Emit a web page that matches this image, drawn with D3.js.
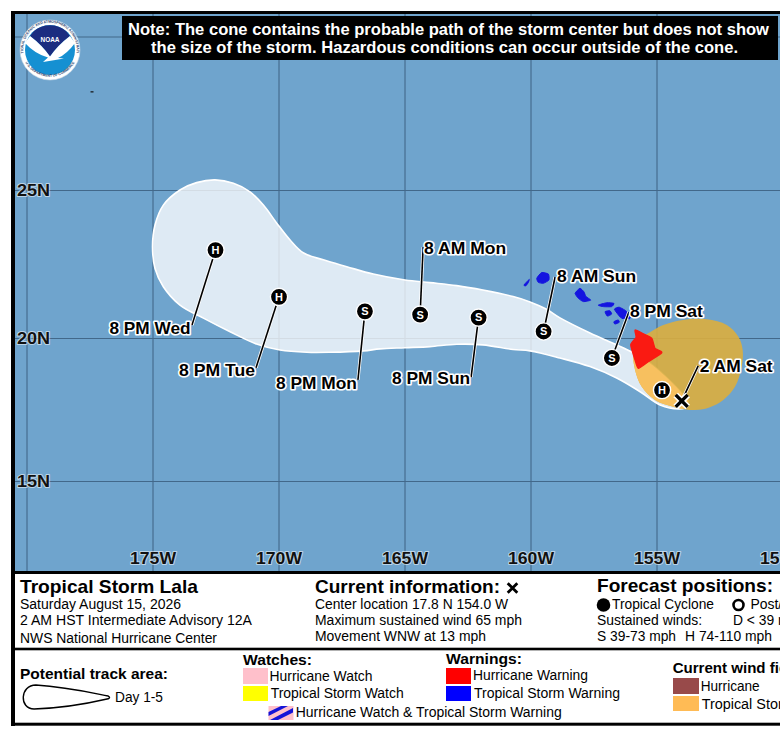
<!DOCTYPE html>
<html>
<head>
<meta charset="utf-8">
<style>
  html, body { margin: 0; padding: 0; background: #fff; }
  svg { display: block; font-family: "Liberation Sans", Arial, sans-serif; }
</style>
<script src="https://cdn.jsdelivr.net/npm/d3@7"></script>
</head>
<body>
<svg id="chart" width="780" height="736"></svg>
<script>
// ticks
const lonTicks = [-180, -175, -170, -165, -160, -155, -150];
const latTicks = [30, 25, 20, 15];

// forecast positions, oldest last
const forecastLons = [-172.5, -169.98, -166.57, -164.38, -162.06, -159.48, -156.77, -154.78];
const forecastLats = [22.97, 21.39, 20.90, 20.79, 20.69, 20.22, 19.30, 18.18];
const forecastTypes = ['H', 'H', 'S', 'S', 'S', 'S', 'S', 'H'];
const forecastLabels = ['8 PM Wed', '8 PM Tue', '8 PM Mon', '8 AM Mon', '8 PM Sun', '8 AM Sun', '8 PM Sat', ''];
const currentPosition = [-154.0, 17.8];
const currentLabel = '2 AM Sat';

// outlines as [lon, lat]
const cone = [
  [-175.0, 23.08], [-174.9, 23.82], [-174.57, 24.49], [-173.91, 25.0], [-173.25, 25.24], [-172.52, 25.33],
  [-171.79, 25.22], [-171.13, 24.94], [-170.6, 24.49], [-170.07, 23.88], [-169.54, 23.31], [-169.02, 22.88],
  [-168.22, 22.64], [-167.29, 22.41], [-166.24, 22.16], [-164.98, 21.96], [-163.99, 21.87], [-162.93, 21.77],
  [-161.89, 21.62], [-160.69, 21.4], [-160.02, 21.22], [-159.38, 20.98], [-158.83, 20.68], [-157.64, 20.17],
  [-156.58, 19.76], [-155.98, 19.51], [-155.34, 19.17], [-154.66, 18.67], [-154.0, 18.08], [-153.75, 17.8],
  [-153.79, 17.59], [-154.07, 17.52], [-154.86, 17.66], [-155.65, 18.12], [-156.58, 18.6], [-157.64, 19.0],
  [-158.83, 19.3], [-160.02, 19.55], [-160.69, 19.6], [-161.89, 19.76], [-162.93, 19.78], [-163.99, 19.7],
  [-164.98, 19.66], [-165.97, 19.62], [-166.63, 19.55], [-167.96, 19.5], [-168.88, 19.5], [-169.94, 19.58],
  [-170.87, 19.79], [-171.92, 20.21], [-172.98, 20.67], [-173.91, 21.11], [-174.57, 21.73], [-174.9, 22.35]
];
const windField = [
  [-155.33, 20.16], [-154.73, 20.44], [-153.94, 20.61], [-153.01, 20.63], [-152.21, 20.44], [-151.75, 20.04],
  [-151.58, 19.58], [-151.62, 19.0], [-151.88, 18.3], [-152.35, 17.83], [-152.88, 17.58], [-153.47, 17.48],
  [-154.27, 17.58], [-155.06, 17.83], [-155.59, 18.3], [-155.85, 18.88], [-155.92, 19.48], [-155.73, 19.93]
];
const bigIsland = [
  [-155.85, 20.27], [-155.52, 20.14], [-155.19, 19.99], [-155.06, 19.64], [-154.79, 19.49], [-155.33, 19.17],
  [-155.72, 18.94], [-155.85, 19.23], [-156.02, 19.76], [-155.81, 20.02]
];
const warnedIslands = [
  [[-159.75, 22.02], [-159.56, 22.21], [-159.29, 22.16], [-159.27, 21.96], [-159.49, 21.85], [-159.69, 21.88]],
  [[-160.26, 21.79], [-160.05, 21.98], [-160.09, 21.87], [-160.19, 21.76]],
  [[-158.23, 21.51], [-158.04, 21.68], [-157.88, 21.56], [-157.8, 21.4], [-157.61, 21.28], [-157.9, 21.23], [-158.1, 21.34]],
  [[-157.31, 21.11], [-156.98, 21.19], [-156.69, 21.17], [-156.78, 21.06], [-157.11, 21.06]],
  [[-157.04, 20.89], [-156.85, 20.92], [-156.78, 20.81], [-156.95, 20.74]],
  [[-156.67, 20.97], [-156.48, 21.04], [-156.18, 20.89], [-156.25, 20.67], [-156.42, 20.69]],
  [[-156.69, 20.55], [-156.52, 20.61], [-156.48, 20.53], [-156.65, 20.47]],
  [[-156.13, 20.74], [-156.01, 20.71], [-156.09, 20.64]]
];
const atoll = [-177.4, 28.2];

// legend + info text
const noteLines = [
  'Note: The cone contains the probable path of the storm center but does not show',
  'the size of the storm. Hazardous conditions can occur outside of the cone.'
];
const infoTitles = ['Tropical Storm Lala', 'Current information:', 'Forecast positions:'];
const infoLeft = ['Saturday August 15, 2026', '2 AM HST Intermediate Advisory 12A', 'NWS National Hurricane Center'];
const infoCurrent = ['Center location 17.8 N 154.0 W', 'Maximum sustained wind 65 mph', 'Movement WNW at 13 mph'];

const svg = d3.select('#chart');

// x, baseline, size, bold, width
function put(str, x, y, size, bold, width) {
  const t = svg.append('text')
    .attr('x', x).attr('y', y)
    .attr('font-size', size)
    .attr('font-weight', bold ? 'bold' : 'normal')
    .attr('fill', '#000')
    .text(str);
  if (width) t.attr('textLength', width).attr('lengthAdjust', 'spacingAndGlyphs');
  return t;
}

const mapLeft = 15, mapRight = 780, mapTop = 14, mapBottom = 571;

const x = d3.scaleLinear().domain([-180, -150]).range([26.5, 782.5]);
// mercator-ish spacing, so piecewise
const y = d3.scaleLinear().domain([30, 25, 20, 15]).range([36.5, 190, 338, 481]);

svg.append('clipPath').attr('id', 'mapClip').append('rect')
  .attr('x', mapLeft).attr('y', mapTop)
  .attr('width', mapRight - mapLeft).attr('height', mapBottom - mapTop);

const map = svg.append('g').attr('clip-path', 'url(#mapClip)');

map.append('rect')
  .attr('x', mapLeft).attr('y', mapTop)
  .attr('width', mapRight - mapLeft).attr('height', mapBottom - mapTop)
  .attr('fill', '#6fa4cd');

// grid comes from the axes
const xGrid = d3.axisBottom(x).tickValues(lonTicks).tickSize(mapBottom - mapTop).tickFormat('');
const yGrid = d3.axisLeft(y).tickValues(latTicks).tickSize(-(mapRight - mapLeft)).tickFormat('');
map.append('g').attr('transform', `translate(0,${mapTop})`).call(xGrid)
  .call(g => g.select('.domain').remove())
  .call(g => g.selectAll('line').attr('stroke', '#42688a').attr('stroke-width', 1.1));
map.append('g').attr('transform', `translate(${mapLeft},0)`).call(yGrid)
  .call(g => g.select('.domain').remove())
  .call(g => g.selectAll('line').attr('stroke', '#42688a').attr('stroke-width', 1.1));

const outline = d3.line().x(d => x(d[0])).y(d => y(d[1])).curve(d3.curveCatmullRomClosed.alpha(0.5));
const island = d3.line().x(d => x(d[0])).y(d => y(d[1])).curve(d3.curveCardinalClosed.tension(0.45));

svg.append('clipPath').attr('id', 'coneClip').append('path').attr('d', outline(cone));

// cone, then wind field over it
map.append('path').attr('d', outline(cone))
  .attr('fill', '#fff').attr('fill-opacity', 0.77);
map.append('path').attr('d', outline(cone))
  .attr('fill', 'none').attr('stroke', '#fff').attr('stroke-width', 1.6);
map.append('path').attr('d', outline(windField))
  .attr('fill', '#dcae3e').attr('fill-opacity', 0.9);
map.append('path').attr('d', outline(windField))
  .attr('clip-path', 'url(#coneClip)')
  .attr('fill', '#f7c05f');

map.selectAll('.warned').data(warnedIslands).join('path')
  .attr('class', 'warned')
  .attr('d', island)
  .attr('fill', '#1414e0').attr('stroke', '#1414e0').attr('stroke-width', 1).attr('stroke-linejoin', 'round');
map.append('path').attr('d', island(bigIsland))
  .attr('fill', '#fa1a12').attr('stroke', '#fa1a12').attr('stroke-width', 1.4).attr('stroke-linejoin', 'round');
map.append('rect')
  .attr('x', x(atoll[0]) - 1.5).attr('y', y(atoll[1]) - 0.5)
  .attr('width', 3).attr('height', 1.2).attr('fill', '#111');

// axis labels, halo kept faint
const halo = sel => sel
  .attr('paint-order', 'stroke')
  .attr('stroke', '#fff').attr('stroke-opacity', 0.55).attr('stroke-width', 2).attr('stroke-linejoin', 'round');

const xAxis = d3.axisBottom(x).tickValues(lonTicks.slice(1)).tickSize(0).tickFormat(d => `${-d}W`);
map.append('g').attr('transform', 'translate(0,549)').call(xAxis)
  .call(g => g.select('.domain').remove())
  .call(g => g.selectAll('text')
    .attr('font-family', '"Liberation Sans", Arial, sans-serif')
    .attr('font-size', 17).attr('font-weight', 'bold').attr('fill', '#111')
    .attr('textLength', 46).attr('lengthAdjust', 'spacingAndGlyphs')
    .call(halo));

const yAxis = d3.axisRight(y).tickValues(latTicks.slice(1)).tickSize(0).tickFormat(d => `${d}N`);
map.append('g').attr('transform', 'translate(17,0)').call(yAxis)
  .call(g => g.select('.domain').remove())
  .call(g => g.selectAll('text')
    .attr('x', 0)
    .attr('font-family', '"Liberation Sans", Arial, sans-serif')
    .attr('font-size', 17).attr('font-weight', 'bold').attr('fill', '#111')
    .attr('textLength', 33).attr('lengthAdjust', 'spacingAndGlyphs')
    .call(halo));

// leader line ends and text relative to each marker
const leaderDx = [-23.5, -23, -7, 3, -7.5, 11.5, 17];
const leaderDy = [75, 71, 68.5, -67.5, 59.5, -54.5, -46];
const labelDx = [-25, -24, -8, 4, -8.5, 13.5, 18];
const labelDy = [84, 79, 78, -61, 66, -49, -41];
const labelAnchor = ['end', 'end', 'end', 'start', 'end', 'start', 'start'];
const labelWidth = [81, 76, 81, 82, 78, 79, 73];

const forecast = forecastLons.map((lon, i) => ({
  px: x(lon), py: y(forecastLats[i]), type: forecastTypes[i], label: forecastLabels[i], i
}));

// leaders
map.selectAll('.leader').data(forecast.filter(d => d.label)).join('line')
  .attr('class', 'leader')
  .attr('x1', d => d.px).attr('y1', d => d.py)
  .attr('x2', d => d.px + leaderDx[d.i]).attr('y2', d => d.py + leaderDy[d.i])
  .attr('stroke', '#fff').attr('stroke-width', 3.2);
map.selectAll('.leaderInk').data(forecast.filter(d => d.label)).join('line')
  .attr('class', 'leaderInk')
  .attr('x1', d => d.px).attr('y1', d => d.py)
  .attr('x2', d => d.px + leaderDx[d.i]).attr('y2', d => d.py + leaderDy[d.i])
  .attr('stroke', '#000').attr('stroke-width', 1.6);

// current position leader + X
const cx = x(currentPosition[0]), cy = y(currentPosition[1]);
map.append('line').attr('x1', cx).attr('y1', cy).attr('x2', cx + 16.5).attr('y2', cy - 35)
  .attr('stroke', '#fff').attr('stroke-width', 3.2);
map.append('line').attr('x1', cx).attr('y1', cy).attr('x2', cx + 16.5).attr('y2', cy - 35)
  .attr('stroke', '#000').attr('stroke-width', 1.6);

function cross(parent, px, py, r, w) {
  const d = `M${px - r},${py - r}L${px + r},${py + r}M${px - r},${py + r}L${px + r},${py - r}`;
  parent.append('path').attr('d', d).attr('stroke', '#fff').attr('stroke-width', w + 3).attr('fill', 'none');
  parent.append('path').attr('d', d).attr('stroke', '#000').attr('stroke-width', w).attr('fill', 'none');
}
cross(map, cx, cy, 6, 3.4);

const markers = map.selectAll('.marker').data(forecast).join('g')
  .attr('class', 'marker')
  .attr('transform', d => `translate(${d.px},${d.py})`);
markers.append('circle').attr('r', 8.6).attr('fill', '#000').attr('stroke', '#fff').attr('stroke-width', 1.4);
markers.append('text')
  .attr('text-anchor', 'middle').attr('y', 3.9)
  .attr('font-size', 11).attr('font-weight', 'bold').attr('fill', '#fff')
  .text(d => d.type);

const labelHalo = sel => sel
  .attr('paint-order', 'stroke')
  .attr('stroke', '#fff').attr('stroke-width', 3.2).attr('stroke-linejoin', 'round');

map.selectAll('.fcLabel').data(forecast.filter(d => d.label)).join('text')
  .attr('class', 'fcLabel')
  .attr('x', d => d.px + labelDx[d.i]).attr('y', d => d.py + labelDy[d.i])
  .attr('text-anchor', d => labelAnchor[d.i])
  .attr('font-size', 17).attr('font-weight', 'bold').attr('fill', '#000')
  .attr('textLength', d => labelWidth[d.i]).attr('lengthAdjust', 'spacingAndGlyphs')
  .text(d => d.label)
  .call(labelHalo);
map.append('text')
  .attr('x', cx + 18).attr('y', cy - 29)
  .attr('font-size', 17).attr('font-weight', 'bold').attr('fill', '#000')
  .attr('textLength', 73).attr('lengthAdjust', 'spacingAndGlyphs')
  .text(currentLabel)
  .call(labelHalo);

// note box
map.append('rect').attr('x', 122).attr('y', 16).attr('width', 656).attr('height', 44).attr('fill', '#000');
map.append('text').attr('x', 128).attr('y', 35).attr('font-size', 16.5).attr('font-weight', 'bold').attr('fill', '#fff')
  .attr('textLength', 641).attr('lengthAdjust', 'spacingAndGlyphs').text(noteLines[0]);
map.append('text').attr('x', 151).attr('y', 53).attr('font-size', 16.5).attr('font-weight', 'bold').attr('fill', '#fff')
  .attr('textLength', 587).attr('lengthAdjust', 'spacingAndGlyphs').text(noteLines[1]);

// NOAA logo
const logo = map.append('g').attr('transform', 'translate(50,50)');
logo.append('circle').attr('r', 30).attr('fill', '#fff').attr('stroke', '#c8d6e4').attr('stroke-width', 0.6);
logo.append('circle').attr('r', 25).attr('fill', '#1590d2');
logo.append('path').attr('fill', '#1b2d80')
  .attr('d', 'M-16,-19 A25,25 0 0 1 16,-19 L20,-14 Q8,-5 0,6.5 Q-8,-5 -20,-14 Z');
logo.append('path').attr('fill', '#fff')
  .attr('d', 'M-25,-7 L-20,-14 Q-8,-5 0,6.5 Q8,-5 20,-14 L25,-7 Q17,4 8,8 L14,8.5 Q4,10 -7,12 L-2,7.5 Q-15,4 -25,-7 Z');
logo.append('text').attr('text-anchor', 'middle').attr('y', -8.5)
  .attr('font-size', 7.5).attr('font-weight', 'bold').attr('fill', '#fff')
  .attr('textLength', 19).attr('lengthAdjust', 'spacingAndGlyphs').text('NOAA');
logo.append('path').attr('id', 'ringTop').attr('fill', 'none').attr('d', 'M-26.3,4 A26.7,26.7 0 1 1 26.3,4');
logo.append('path').attr('id', 'ringBottom').attr('fill', 'none').attr('d', 'M-25.5,11 A28.5,28.5 0 0 0 25.5,11');
logo.append('text').attr('font-size', 3.5).attr('fill', '#24406c').attr('font-weight', 'bold')
  .append('textPath').attr('href', '#ringTop').attr('startOffset', '50%').attr('text-anchor', 'middle')
  .text('NATIONAL OCEANIC AND ATMOSPHERIC ADMINISTRATION');
logo.append('text').attr('font-size', 3.5).attr('fill', '#24406c').attr('font-weight', 'bold')
  .append('textPath').attr('href', '#ringBottom').attr('startOffset', '50%').attr('text-anchor', 'middle')
  .text('U.S. DEPARTMENT OF COMMERCE');

// frame
const bars = [
  [11, 11, 769, 3], [11, 11, 4, 715], [11, 571, 769, 3], [11, 647.7, 769, 2.6], [11, 722.7, 769, 3]
];
svg.selectAll('.bar').data(bars).join('rect')
  .attr('class', 'bar')
  .attr('x', d => d[0]).attr('y', d => d[1]).attr('width', d => d[2]).attr('height', d => d[3])
  .attr('fill', '#000');

// info panel
put(infoTitles[0], 20, 593, 18.5, true, 178);
put(infoLeft[0], 20, 608.7, 14, false, 161);
put(infoLeft[1], 20, 625.3, 14, false, 232);
put(infoLeft[2], 20, 643, 14, false, 197);

put(infoTitles[1], 315, 593, 18.5, true, 185);
cross(svg, 512.5, 588, 4.8, 2.8);
put(infoCurrent[0], 315, 609, 14, false, 193);
put(infoCurrent[1], 315, 625, 14, false, 207);
put(infoCurrent[2], 315, 641, 14, false, 171);

put(infoTitles[2], 597, 592, 18.5, true, 176);
svg.append('circle').attr('cx', 603.5).attr('cy', 605).attr('r', 6.8).attr('fill', '#000');
put('Tropical Cyclone', 612, 609, 14, false, 102);
svg.append('circle').attr('cx', 738.5).attr('cy', 605).attr('r', 5).attr('fill', '#fff').attr('stroke', '#000').attr('stroke-width', 2.6);
put('Post/Potential TC', 750.5, 609, 14, false, 108);
put('Sustained winds:', 597, 625, 14, false, 105);
put('D < 39 mph', 733, 625, 14, false, 72);
put('S 39-73 mph', 597, 641, 14, false, 79);
put('H 74-110 mph', 685, 641, 14, false, 87);

// legend
put('Potential track area:', 20, 679, 15, true, 148);
const iconX = d3.scaleLinear().domain([0, 1]).range([20.7, 110]);
const iconY = d3.scaleLinear().domain([-1, 1]).range([685, 709]);
svg.append('path')
  .attr('d', 'M' + iconX(0.98) + ',' + iconY(-0.08) +
    ' C' + iconX(0.7) + ',' + iconY(-0.5) + ' ' + iconX(0.5) + ',' + iconY(-0.85) + ' ' + iconX(0.17) + ',' + iconY(-1) +
    ' C' + iconX(-0.01) + ',' + iconY(-1) + ' ' + iconX(-0.02) + ',' + iconY(1) + ' ' + iconX(0.15) + ',' + iconY(1) +
    ' C' + iconX(0.4) + ',' + iconY(0.95) + ' ' + iconX(0.75) + ',' + iconY(0.55) + ' ' + iconX(0.98) + ',' + iconY(0.15) +
    ' Q' + iconX(1.01) + ',' + iconY(0.03) + ' ' + iconX(0.98) + ',' + iconY(-0.08) + 'Z')
  .attr('fill', '#fff').attr('stroke', '#000').attr('stroke-width', 1.4);
put('Day 1-5', 115, 702, 14, false, 48);

const swatch = (sx, sy, w, h, color) =>
  svg.append('rect').attr('x', sx).attr('y', sy).attr('width', w).attr('height', h).attr('fill', color);

put('Watches:', 243, 665, 15, true, 69);
swatch(243, 668, 25, 16, '#ffc0cb');
put('Hurricane Watch', 269.5, 680.7, 14, false, 103);
swatch(243, 686, 25, 15, '#ffff00');
put('Tropical Storm Watch', 270.7, 698, 14, false, 133);

swatch(268.5, 706, 25, 14, '#ffc0cb');
svg.append('path')
  .attr('d', 'M268.5,712 L281,706 H288 L268.5,716 Z M270,720 L293,708 V712.5 L278,720 Z')
  .attr('fill', '#1414d8');
put('Hurricane Watch & Tropical Storm Warning', 295.7, 717, 14, false, 266);

put('Warnings:', 446, 664, 15, true, 76);
swatch(446, 668, 25, 16, '#ff0000');
put('Hurricane Warning', 473, 680, 14, false, 115);
swatch(446, 686, 25, 15, '#0000ff');
put('Tropical Storm Warning', 474, 698, 14, false, 146);

put('Current wind field:', 672.7, 673.3, 15, true, 133);
swatch(673, 678, 26, 16, '#984a4a');
put('Hurricane', 700.7, 690.7, 14, false, 59);
swatch(673, 696, 26, 15, '#ffbb55');
put('Tropical Storm', 701.7, 709, 14, false, 93);
</script>
</body>
</html>
